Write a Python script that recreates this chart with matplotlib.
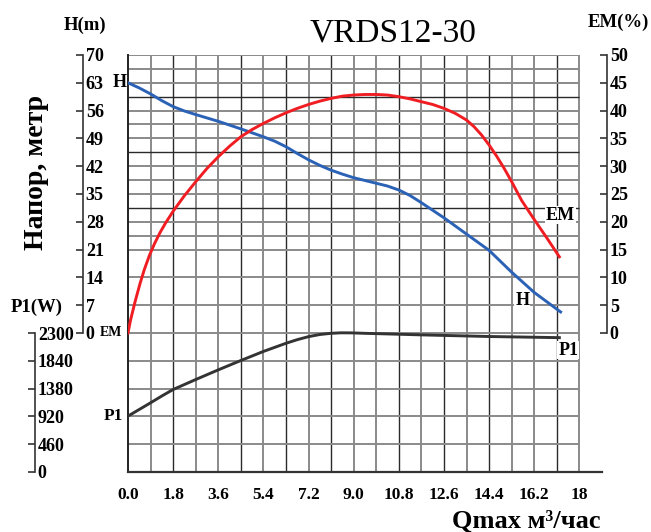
import matplotlib
matplotlib.use("Agg")
import matplotlib.pyplot as plt
import numpy as np

plt.rcParams['font.family'] = ['Liberation Serif', 'DejaVu Serif']

# --- data ---
q_h = [0, 0.45, 0.9, 1.35, 1.8, 2.25, 2.7, 3.6, 4.5, 5.4, 5.85, 6.3, 6.75, 7.2, 7.65, 8.1, 8.55, 9.0,
       9.9, 10.35, 10.8, 11.25, 11.7, 12.6, 13.5, 14.4, 15.3, 16.2, 17.25]
h_m = [63, 61.7, 60.2, 58.5, 57.0, 55.9, 55.0, 53.3, 51.4, 49.4, 48.3, 46.9, 45.2, 43.6, 42.2, 41.0, 40.0, 39.1,
       37.7, 37.0, 36.0, 34.6, 32.8, 29.0, 24.9, 20.8, 15.3, 10.2, 5.3]

q_em = [0, 0.1, 0.28, 0.48, 0.65, 0.85, 1.05, 1.27, 1.5, 1.8, 2.25, 2.7, 3.15, 3.6, 4.05, 4.5, 4.95,
        5.4, 5.85, 6.3, 6.75, 7.2, 7.65, 8.1, 8.55, 9.0, 9.45, 9.9, 10.35, 10.8, 11.25, 11.7, 12.15,
        12.6, 13.05, 13.5, 13.8, 14.1, 14.4, 14.7, 15.0, 15.3, 15.7, 16.2, 16.7, 17.2]
em = [0, 2.3, 5.6, 8.9, 11.4, 13.9, 16.0, 18.0, 19.8, 21.9, 24.7, 27.2, 29.6, 31.7, 33.6, 35.3, 36.6,
      37.7, 38.7, 39.6, 40.4, 41.1, 41.7, 42.2, 42.6, 42.8, 42.9, 42.9, 42.8, 42.5, 42.1, 41.6, 41.1,
      40.4, 39.5, 38.3, 37.1, 35.6, 33.8, 31.8, 29.6, 27.2, 23.8, 20.4, 17.1, 13.7]

q_p1 = [0, 0.45, 0.9, 1.35, 1.8, 2.7, 3.6, 4.5, 5.4, 6.3, 6.75, 7.2, 7.65, 8.1, 8.5, 8.9, 9.5, 10.5,
        11.8, 14.4, 17.2]
p1_w = [925, 1035, 1145, 1258, 1365, 1530, 1690, 1845, 1995, 2130, 2190, 2240, 2275, 2295, 2303, 2302, 2294, 2283,
        2268, 2242, 2223]

q_ticks = [0, 1.8, 3.6, 5.4, 7.2, 9.0, 10.8, 12.6, 14.4, 16.2, 18]
q_labels = ['0.0', '1.8', '3.6', '5.4', '7.2', '9.0', '10.8', '12.6', '14.4', '16.2', '18']
h_ticks = [0, 7, 14, 21, 28, 35, 42, 49, 56, 63, 70]
em_ticks = [0, 5, 10, 15, 20, 25, 30, 35, 40, 45, 50]
p1_ticks = [0, 460, 920, 1380, 1840, 2300]

W, HP = 651, 532


def rect(x0, y0, x1, y1):
    return [x0 / W, 1 - y1 / HP, (x1 - x0) / W, (y1 - y0) / HP]


fig = plt.figure(figsize=(W / 100, HP / 100), dpi=100)

ax = fig.add_axes(rect(128, 55, 602, 472))
ax.set_xlim(0, 18.9)
ax.set_ylim(-35, 70)
ax.patch.set_alpha(0)

# grid
grey = '#8a8a8a'
dark = '#2a2a2a'
qg = np.arange(0, 18.01, 0.9)
dark_cols = [2, 5, 7, 9, 12, 14, 16, 19]
hg = list(np.arange(-35, 21, 7)) + list(np.arange(21, 70.01, 3.5))
dark_rows = [31.5, 45.5, 59.5]
for i, q in enumerate(qg[1:], start=1):
    ax.vlines(q, -35, 70, color=dark if i in dark_cols else grey,
              lw=1.0 if i in dark_cols else 1.4, zorder=1)
for yv in hg:
    d = any(abs(yv - r) < 0.01 for r in dark_rows)
    ax.hlines(yv, 0, 18, color=dark if d else grey, lw=1.0 if d else 1.4, zorder=1)

for s in ['top', 'right']:
    ax.spines[s].set_visible(False)
ax.spines['left'].set_color('#222222')
ax.spines['left'].set_linewidth(1.4)
ax.spines['bottom'].set_color('#333333')
ax.spines['bottom'].set_linewidth(1.6)
ax.set_yticks([])
ax.set_xticks(q_ticks)
ax.set_xticklabels(q_labels, fontsize=12.5, fontweight='bold')
ax.tick_params(axis='x', length=0, pad=11)

# curves
ax.plot(q_h, h_m, color='#2b62b6', lw=2.1, zorder=3)
ax_em = ax.twinx()
ax_em.set_ylim(-25, 50)
ax_em.axis('off')
ax_em.plot(q_em, em, color='#f01d23', lw=2.1, zorder=3)
ax_p = ax.twinx()
ax_p.set_ylim(0, 6900)
ax_p.axis('off')
ax_p.plot(q_p1, p1_w, color='#333333', lw=2.1, zorder=3)

# curve labels
lab = dict(fontsize=13, fontweight='bold', va='center')
ax.text(-0.05, 63, 'H', ha='right', **lab)
ax.text(-0.22, 0, 'EM', ha='right', va='center', fontsize=10, fontweight='bold')
ax_p.text(-0.2, 925, 'P1', ha='right', va='center', fontsize=12.5, fontweight='bold')
wb = dict(facecolor='white', edgecolor='none', pad=0.5)
ax.text(17.24, 29.7, 'EM', ha='center', bbox=wb, **lab)
ax.text(15.72, 8.1, 'H', ha='center', bbox=wb, **lab)
ax.text(17.55, -4.3, 'P1', ha='center', bbox=wb, **lab)


def side_axis(x_px, lo, hi, bound_hi, ticks):
    a = fig.add_axes(rect(0, 55, x_px, 472))
    a.patch.set_alpha(0)
    a.set_ylim(lo, hi)
    for s in ['top', 'left', 'bottom']:
        a.spines[s].set_visible(False)
    a.spines['right'].set_bounds(0, bound_hi)
    a.spines['right'].set_color('#333333')
    a.spines['right'].set_linewidth(1.2)
    a.set_xticks([])
    a.yaxis.tick_right()
    a.set_yticks(ticks)
    a.set_yticklabels([str(t) for t in ticks], fontsize=13, fontweight='bold')
    a.tick_params(axis='y', direction='in', length=5, width=1.2, pad=2, color='#333333')
    return a


side_axis(83, -35, 70, 70, h_ticks)
side_axis(607, -25, 50, 50, em_ticks)
side_axis(35, 0, 6900, 2300, p1_ticks)


def ftext(x, y, s, **kw):
    fig.text(x / W, 1 - y / HP, s, **kw)


ftext(393, 33, 'VRDS12-30', fontsize=24, ha='center', va='center')
ftext(85, 25, 'H(m)', fontsize=13.5, fontweight='bold', ha='center', va='center')
ftext(618, 22, 'EM(%)', fontsize=13.5, fontweight='bold', ha='center', va='center')
ftext(37, 307, 'P1(W)', fontsize=13.5, fontweight='bold', ha='center', va='center')
ftext(37, 172, 'Напор, метр', fontsize=20, fontweight='bold', ha='center', va='center', rotation=90)
ftext(600, 521, 'Qmax м³/час', fontsize=19, fontweight='bold', ha='right', va='center')

fig.savefig('out.png', dpi=100)
